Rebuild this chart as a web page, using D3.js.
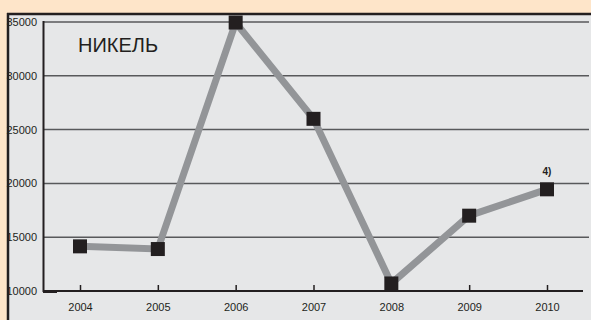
<!DOCTYPE html>
<html><head><meta charset="utf-8">
<script src="https://cdn.jsdelivr.net/npm/d3@7"></script>
<style>html,body{margin:0;padding:0;background:#fee5c9;}svg{display:block;}</style>
</head><body>
<script>
const years = ["2004","2005","2006","2007","2008","2009","2010"];
const prices = [14150, 13900, 34950, 26000, 10700, 17000, 19450];
const yTicks = [10000, 15000, 20000, 25000, 30000, 35000];
const title = "НИКЕЛЬ";
const note = "4)";

const W = 591, H = 320;
const svg = d3.select("body").append("svg").attr("width", W).attr("height", H);
svg.append("rect").attr("width", W).attr("height", H).attr("fill", "#fee5c9");
// panel
svg.append("rect").attr("x", 8).attr("y", 14).attr("width", W).attr("height", H).attr("fill", "#e6e7e8");

const x = d3.scalePoint().domain(years).range([80, 547]);
const y = d3.scaleLinear().domain([10000, 35000]).range([291, 22]);

// gridlines
svg.append("g").selectAll("line").data(yTicks.slice(1)).join("line")
  .attr("x1", 43).attr("x2", 589)
  .attr("y1", d => y(d)).attr("y2", d => y(d))
  .attr("stroke", "#58595b").attr("stroke-width", 1.5);

// y labels
const fontFam = "'Liberation Sans', Arial, Helvetica, sans-serif";
svg.append("g").selectAll("text").data(yTicks).join("text")
  .attr("x", 37).attr("y", d => y(d)).attr("dy", "0.36em")
  .attr("text-anchor", "end").attr("font-family", fontFam).attr("font-size", 11)
  .attr("fill", "#231f20").text(d => d);

// x axis
const xAxis = d3.axisBottom(x).tickSizeInner(-6).tickSizeOuter(0).tickPadding(12);
const gx = svg.append("g").attr("transform", "translate(0,291)").call(xAxis);
gx.select(".domain").remove();
gx.selectAll(".tick line").attr("stroke", "#231f20").attr("stroke-width", 1.5);
gx.selectAll(".tick text").attr("font-family", fontFam).attr("font-size", 11).attr("fill", "#231f20");
svg.append("line").attr("x1", 43).attr("x2", 583).attr("y1", 291).attr("y2", 291)
  .attr("stroke", "#231f20").attr("stroke-width", 2);
svg.append("line").attr("x1", 43).attr("x2", 57).attr("y1", 291.5).attr("y2", 291.5)
  .attr("stroke", "#231f20").attr("stroke-width", 3);
// y axis line
svg.append("line").attr("x1", 43.5).attr("x2", 43.5).attr("y1", 21).attr("y2", 292)
  .attr("stroke", "#231f20").attr("stroke-width", 2);

// panel border (top, left) drawn over labels
svg.append("line").attr("x1", 7).attr("x2", W).attr("y1", 14).attr("y2", 14)
  .attr("stroke", "#231f20").attr("stroke-width", 2.5);
svg.append("line").attr("x1", 8).attr("x2", 8).attr("y1", 13).attr("y2", H)
  .attr("stroke", "#231f20").attr("stroke-width", 2.5);

// series line
const data = years.map((yr, i) => ({yr, v: prices[i]}));
svg.append("path").datum(data)
  .attr("d", d3.line().x(d => x(d.yr)).y(d => y(d.v)))
  .attr("fill", "none").attr("stroke", "#939598").attr("stroke-width", 7)
  .attr("stroke-linejoin", "miter");

// markers
const ms = 14;
svg.append("g").selectAll("rect").data(data).join("rect")
  .attr("x", d => x(d.yr) - ms/2).attr("y", d => y(d.v) - ms/2)
  .attr("width", ms).attr("height", ms).attr("fill", "#231f20");

// title
svg.append("text").attr("x", 78).attr("y", 52)
  .attr("font-family", fontFam).attr("font-size", 20).attr("fill", "#231f20").text(title);

// note
svg.append("text").attr("x", x("2010")).attr("y", 175).attr("text-anchor", "middle")
  .attr("font-family", fontFam).attr("font-size", 10).attr("font-weight", "bold")
  .attr("fill", "#231f20").text(note);
</script>
</body></html>
